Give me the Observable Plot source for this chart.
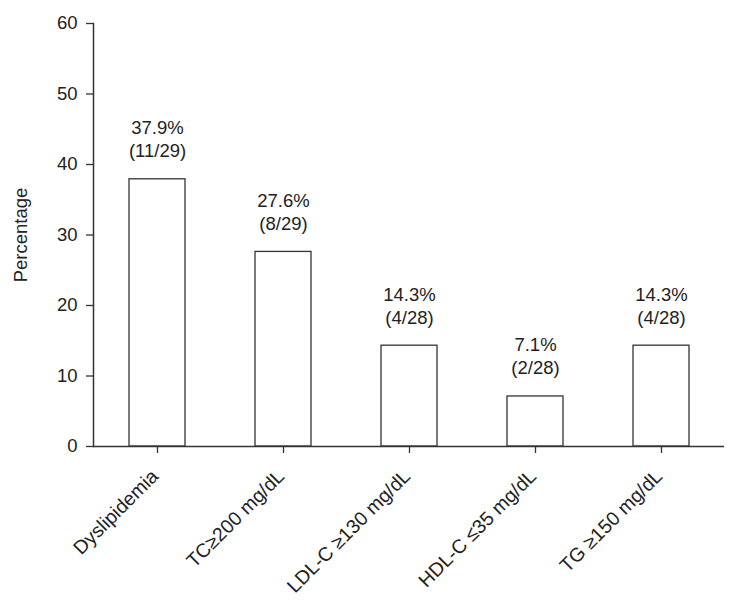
<!DOCTYPE html>
<html>
<head>
<meta charset="utf-8">
<script src="https://cdn.jsdelivr.net/npm/d3@7"></script>
<script src="https://cdn.jsdelivr.net/npm/@observablehq/plot@0.6"></script>
<style>
  body { margin: 0; background: #fff; }
  #chart svg { display: block; }
</style>
</head>
<body>
<div id="chart"></div>
<script>
const categories = ["Dyslipidemia", "TC\u2265200 mg/dL", "LDL-C \u2265130 mg/dL", "HDL-C \u226435 mg/dL", "TG \u2265150 mg/dL"];
const percentages = [37.9, 27.6, 14.3, 7.1, 14.3];
const counts = ["(11/29)", "(8/29)", "(4/28)", "(2/28)", "(4/28)"];
const yTicks = [0, 10, 20, 30, 40, 50, 60];

const data = categories.map((c, i) => ({
  category: c,
  value: percentages[i],
  label: `${percentages[i].toFixed(1)}%\n${counts[i]}`
}));

const ink = "#333";
const font = "'Liberation Sans', Arial, Helvetica, sans-serif";

const chart = Plot.plot({
  width: 730,
  height: 604,
  marginLeft: 93,
  marginRight: 6,
  marginTop: 23,
  marginBottom: 158,
  style: { fontFamily: font, fontSize: "18px", color: "#222", background: "#fff" },
  x: { domain: categories, padding: 0, axis: null },
  y: { domain: [0, 60], axis: null },
  marks: [
    Plot.barY(data, {
      x: "category", y: "value",
      fill: "#fff", stroke: ink, strokeWidth: 1.3,
      insetLeft: 35, insetRight: 35
    }),
    Plot.text(data, {
      x: "category", y: "value", text: "label",
      lineAnchor: "bottom", dy: -22, lineHeight: 1.25,
      fontSize: 18.5, fill: "#222"
    }),
    Plot.ruleY([0], { stroke: ink, strokeWidth: 1.5 }),
    Plot.frame({ anchor: "left", stroke: ink, strokeWidth: 1.5 }),
    Plot.axisY({
      ticks: yTicks, tickSize: 7, tickPadding: 9, fontSize: 18.5,
      stroke: ink, strokeWidth: 1.3,
      label: "Percentage", labelAnchor: "center", labelArrow: "none", labelOffset: 80
    }),
    Plot.axisX({
      tickSize: 7, tickFormat: () => "", stroke: ink, strokeWidth: 1.3, label: null
    }),
    Plot.text(categories, {
      x: d => d, y: () => 0, text: d => d,
      rotate: -45, textAnchor: "end", lineAnchor: "bottom",
      dx: 2, dy: 31, fontSize: 19.5, fill: "#222"
    })
  ]
});

document.getElementById("chart").append(chart);
</script>
</body>
</html>
